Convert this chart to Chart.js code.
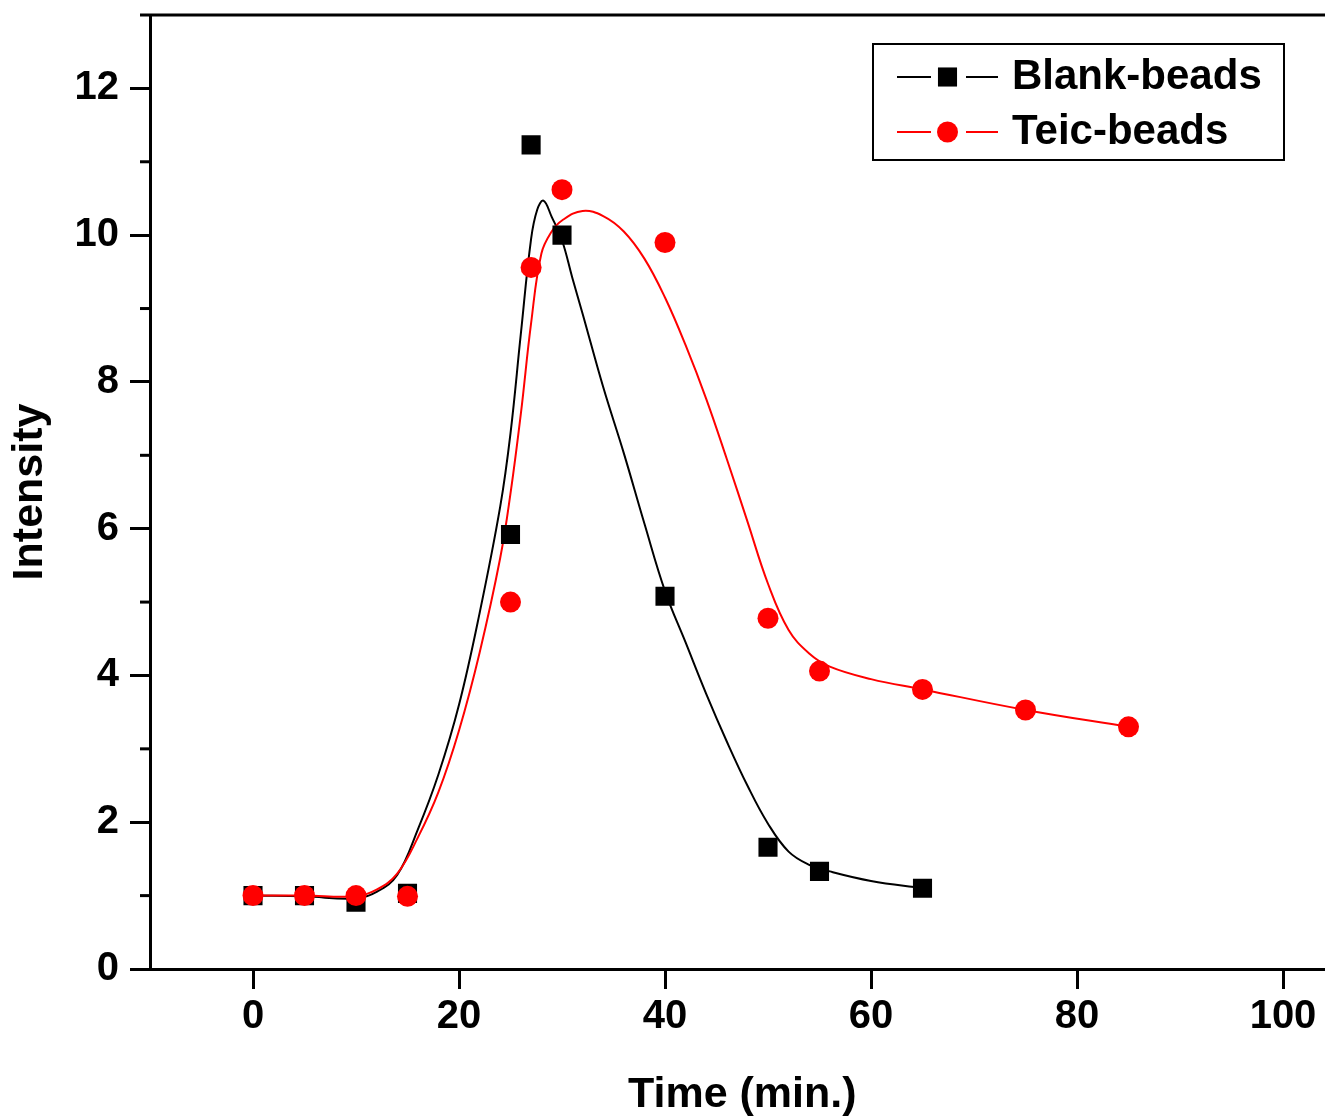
<!DOCTYPE html>
<html lang="en">
<head>
  <meta charset="UTF-8" />
  <title>Intensity vs Time</title>
  <script src="https://cdn.jsdelivr.net/npm/chart.js"></script>
  <style>
    html, body { margin: 0; padding: 0; background: #fff; overflow: hidden; }
    #wrap { width: 1348px; height: 1117px; }
  </style>
</head>
<body>
  <div id="wrap"><canvas id="chart" width="1348" height="1117"></canvas></div>

  <script>
    // measured points
    const blankTime = [0, 5, 10, 15, 25, 27, 30, 40, 50, 55, 65];
    const blankIntensity = [1.0, 1.0, 0.91, 1.03, 5.92, 11.23, 10.0, 5.08, 1.66, 1.33, 1.10];
    const teicTime = [0, 5, 10, 15, 25, 27, 30, 40, 50, 55, 65, 75, 85];
    const teicIntensity = [1.0, 1.0, 1.0, 0.99, 5.0, 9.56, 10.62, 9.9, 4.78, 4.06, 3.81, 3.53, 3.30];

    // smoothed fit curves
    const blankFitTime = [0, 5, 10, 12, 14, 16, 18, 20, 22, 24, 25, 26, 27, 27.6, 28.2, 29, 30, 31, 32, 34, 36, 38, 40, 42, 44, 46, 48, 50, 52, 54, 56, 60, 65];
    const blankFitIntensity = [1.0, 0.99, 0.96, 1.05, 1.28, 1.9, 2.65, 3.6, 4.85, 6.3, 7.3, 8.65, 9.95, 10.35, 10.47, 10.25, 9.93, 9.42, 8.93, 7.93, 7.03, 6.07, 5.15, 4.45, 3.75, 3.1, 2.5, 1.98, 1.6, 1.42, 1.33, 1.2, 1.1];
    const teicFitTime = [0, 5, 10, 12, 14, 16, 18, 20, 22, 24, 25, 26, 27, 28, 29, 30, 32, 34, 36, 38, 40, 42, 44, 46, 48, 50, 52, 54, 56, 60, 65, 75, 85];
    const teicFitIntensity = [1.0, 1.0, 0.99, 1.08, 1.3, 1.79, 2.41, 3.25, 4.31, 5.6, 6.48, 7.56, 8.8, 9.75, 10.05, 10.2, 10.33, 10.26, 10.05, 9.68, 9.15, 8.5, 7.77, 6.95, 6.1, 5.25, 4.62, 4.3, 4.12, 3.95, 3.81, 3.53, 3.30];

    const xTicks = [0, 20, 40, 60, 80, 100];
    const yTicks = [0, 2, 4, 6, 8, 10, 12];
    const yMinorTicks = [1, 3, 5, 7, 9, 11];

    const FONT = "'Liberation Sans', Arial, sans-serif";
    const pts = (xs, ys) => xs.map((x, i) => ({ x: x, y: ys[i] }));

    // no extra room for edge labels, the plot box is fixed
    function noPad(s) {
      s.paddingTop = 0; s.paddingBottom = 0; s.paddingLeft = 0; s.paddingRight = 0;
    }

    // top frame line, minor y ticks and the line+marker legend
    const extras = {
      id: 'extras',
      afterDraw(chart) {
        const { ctx, chartArea: a, scales } = chart;
        ctx.save();
        ctx.strokeStyle = '#000';
        ctx.lineWidth = 3;
        ctx.beginPath();
        ctx.moveTo(a.left - 10, a.top);
        ctx.lineTo(a.right, a.top);
        ctx.stroke();

        yMinorTicks.forEach(v => {
          const py = scales.y.getPixelForValue(v);
          ctx.beginPath();
          ctx.moveTo(a.left - 10, py);
          ctx.lineTo(a.left, py);
          ctx.stroke();
        });

        // legend box
        ctx.fillStyle = '#fff';
        ctx.fillRect(873, 44, 411, 116);
        ctx.lineWidth = 2;
        ctx.strokeRect(873, 44, 411, 116);

        const entries = [
          { ds: chart.data.datasets[1], y: 77 },
          { ds: chart.data.datasets[0], y: 132 }
        ];
        entries.forEach(e => {
          ctx.strokeStyle = e.ds.backgroundColor;
          ctx.lineWidth = 2;
          ctx.beginPath();
          ctx.moveTo(897, e.y); ctx.lineTo(931, e.y);
          ctx.moveTo(966, e.y); ctx.lineTo(998, e.y);
          ctx.stroke();
          ctx.fillStyle = e.ds.backgroundColor;
          Chart.helpers.drawPoint(ctx, {
            pointStyle: e.ds.pointStyle,
            radius: e.ds.pointRadius,
            rotation: 0,
            borderWidth: 0
          }, 947.5, e.y);
          ctx.fillStyle = '#000';
          ctx.font = 'bold 42px ' + FONT;
          ctx.textBaseline = 'middle';
          ctx.textAlign = 'left';
          ctx.fillText(e.ds.label, 1012, e.y);
        });
        ctx.restore();
      }
    };

    const tickFont = { family: FONT, size: 40, weight: 'bold' };
    const titleFont = { family: FONT, size: 43, weight: 'bold', lineHeight: 1 };

    new Chart('chart', {
      type: 'scatter',
      data: {
        datasets: [
          {
            label: 'Teic-beads',
            data: pts(teicTime, teicIntensity),
            pointStyle: 'circle',
            pointRadius: 10.5,
            backgroundColor: '#ff0000',
            borderWidth: 0,
            order: 0
          },
          {
            label: 'Blank-beads',
            data: pts(blankTime, blankIntensity),
            pointStyle: 'rect',
            pointRadius: 13.5,
            backgroundColor: '#000000',
            borderWidth: 0,
            order: 1
          },
          {
            label: 'Teic fit',
            data: pts(teicFitTime, teicFitIntensity),
            showLine: true,
            pointRadius: 0,
            borderColor: '#ff0000',
            borderWidth: 2,
            tension: 0.4,
            order: 2
          },
          {
            label: 'Blank fit',
            data: pts(blankFitTime, blankFitIntensity),
            showLine: true,
            pointRadius: 0,
            borderColor: '#000000',
            borderWidth: 2,
            tension: 0.4,
            order: 3
          }
        ]
      },
      options: {
        responsive: false,
        animation: false,
        events: [],
        layout: { padding: { top: 15, right: 0, left: 0, bottom: 0 } },
        plugins: {
          legend: { display: false },
          tooltip: { enabled: false }
        },
        scales: {
          x: {
            type: 'linear',
            min: -10,
            max: 105,
            afterBuildTicks: s => { s.ticks = xTicks.map(v => ({ value: v })); },
            afterFit: s => { s.height = 148; noPad(s); },
            border: { display: true, color: '#000', width: 3 },
            grid: { drawOnChartArea: false, drawTicks: true, tickLength: 20, tickWidth: 3, tickColor: '#000' },
            ticks: { font: tickFont, color: '#000', padding: 4, maxRotation: 0 },
            title: { display: true, text: 'Time (min.)', font: titleFont, color: '#000', padding: { top: 0, bottom: 0 } }
          },
          y: {
            type: 'linear',
            min: 0,
            max: 13,
            afterBuildTicks: s => { s.ticks = yTicks.map(v => ({ value: v })); },
            afterFit: s => { s.width = 150; noPad(s); },
            border: { display: true, color: '#000', width: 3 },
            grid: { drawOnChartArea: false, drawTicks: true, tickLength: 20, tickWidth: 3, tickColor: '#000' },
            ticks: { font: tickFont, color: '#000', padding: 11 },
            title: { display: true, text: 'Intensity', font: titleFont, color: '#000', padding: { top: 9, bottom: 0 } }
          }
        }
      },
      plugins: [extras]
    });
  </script>
</body>
</html>
